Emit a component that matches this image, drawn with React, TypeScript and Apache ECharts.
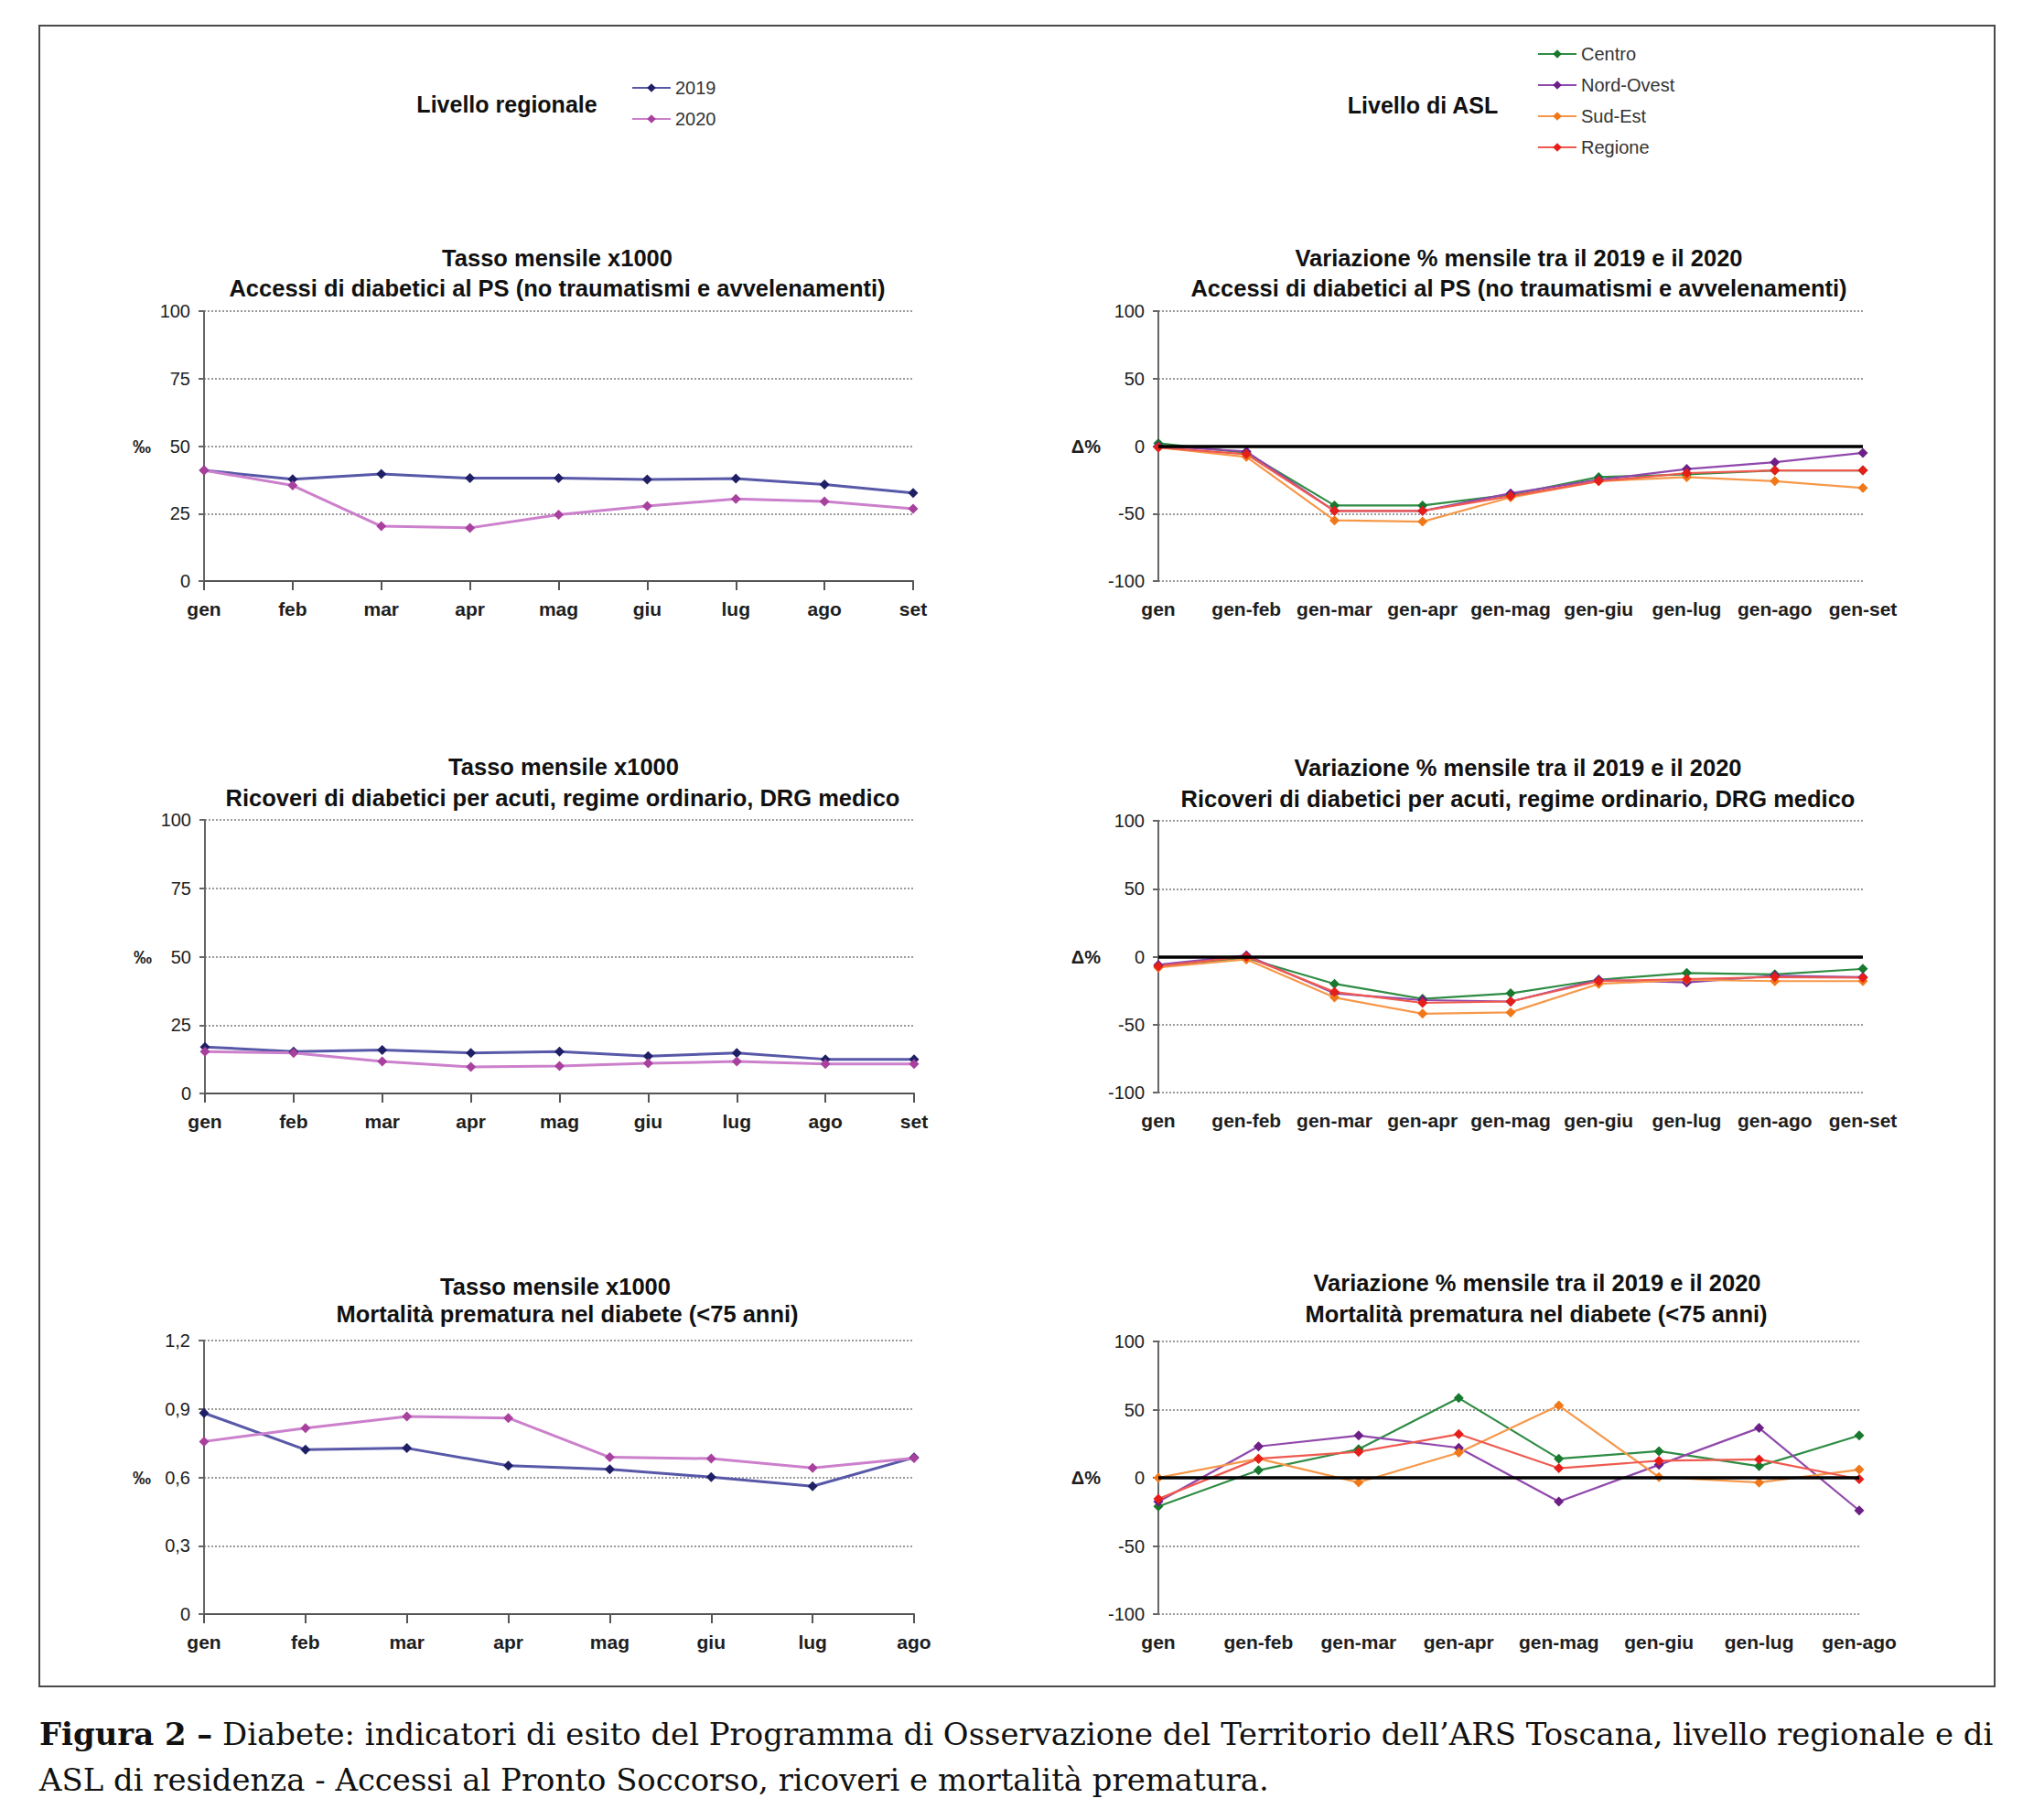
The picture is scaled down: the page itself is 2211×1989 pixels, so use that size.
import React, { useEffect, useRef } from 'react';
import * as echarts from 'echarts';

// ---------- categories ----------
const MONTHS_9 = ['gen', 'feb', 'mar', 'apr', 'mag', 'giu', 'lug', 'ago', 'set'];
const MONTHS_8 = ['gen', 'feb', 'mar', 'apr', 'mag', 'giu', 'lug', 'ago'];
const CUM_9 = ['gen', 'gen-feb', 'gen-mar', 'gen-apr', 'gen-mag', 'gen-giu', 'gen-lug', 'gen-ago', 'gen-set'];
const CUM_8 = ['gen', 'gen-feb', 'gen-mar', 'gen-apr', 'gen-mag', 'gen-giu', 'gen-lug', 'gen-ago'];

// ---------- Accessi al PS ----------
const ps2019 = [41.0, 37.7, 39.7, 38.1, 38.1, 37.6, 38.0, 35.8, 32.6];
const ps2020 = [41.0, 35.4, 20.3, 19.7, 24.6, 27.8, 30.4, 29.5, 26.8];
const psCentro = [2, -5, -44, -44, -36, -23, -21, -18, -18];
const psNordOvest = [0, -4, -48, -48, -35, -25, -17, -12, -5];
const psSudEst = [-1, -8, -55, -56, -38, -26, -23, -26, -31];
const psRegione = [-1, -6, -48, -48, -37, -26, -20, -18, -18];

// ---------- Ricoveri ----------
const ric2019 = [17.0, 15.3, 15.9, 14.8, 15.3, 13.6, 14.8, 12.5, 12.5];
const ric2020 = [15.3, 14.8, 11.7, 9.7, 10.0, 11.0, 11.7, 10.8, 10.8];
const ricCentro = [-7, -1, -20, -31, -27, -17, -12, -13, -9];
const ricNordOvest = [-6, 1, -27, -32, -33, -17, -19, -14, -15];
const ricSudEst = [-8, -2, -30, -42, -41, -20, -17, -18, -18];
const ricRegione = [-7, 0, -26, -34, -33, -18, -16.5, -15, -15.5];

// ---------- Mortalità prematura ----------
const mort2019 = [0.882, 0.721, 0.728, 0.651, 0.635, 0.601, 0.561, 0.687];
const mort2020 = [0.757, 0.816, 0.867, 0.86, 0.688, 0.682, 0.641, 0.684];
const mortCentro = [-21, 5.5, 21, 58.5, 14, 19.5, 8.5, 31];
const mortNordOvest = [-17.5, 23, 31, 22, -17.5, 9.5, 36.5, -24];
const mortSudEst = [0, 14, -3.4, 18.5, 53, 0.5, -3.5, 6];
const mortRegione = [-15.5, 14, 19, 32, 7, 12.5, 13.5, -1];

// ---------- texts ----------
const TITLES = [
  ['Tasso mensile x1000', 'Accessi di diabetici al PS (no traumatismi e avvelenamenti)'],
  ['Variazione % mensile tra il 2019 e il 2020', 'Accessi di diabetici al PS (no traumatismi e avvelenamenti)'],
  ['Tasso mensile x1000', 'Ricoveri di diabetici per acuti, regime ordinario, DRG medico'],
  ['Variazione % mensile tra il 2019 e il 2020', 'Ricoveri di diabetici per acuti, regime ordinario, DRG medico'],
  ['Tasso mensile x1000', 'Mortalità prematura nel diabete (<75 anni)'],
  ['Variazione % mensile tra il 2019 e il 2020', 'Mortalità prematura nel diabete (<75 anni)'],
];
const CAPTION_1_BOLD = 'Figura 2 –';
const CAPTION_1 = ' Diabete: indicatori di esito del Programma di Osservazione del Territorio dell’ARS Toscana, livello regionale e di';
const CAPTION_2 = 'ASL di residenza - Accessi al Pronto Soccorso, ricoveri e mortalità prematura.';

const FONT = 'Liberation Sans, Arial, Helvetica, sans-serif';

const STYLE: Record<string, { line: string; mark: string; width: number }> = {
  '2019': { line: '#5858a8', mark: '#1f1f66', width: 3 },
  '2020': { line: '#cc80cc', mark: '#a8409e', width: 3 },
  Centro: { line: '#2f8c44', mark: '#17782e', width: 2.2 },
  'Nord-Ovest': { line: '#9048ac', mark: '#6c1f86', width: 2.2 },
  'Sud-Est': { line: '#f6984a', mark: '#f07818', width: 2.2 },
  Regione: { line: '#ef5a50', mark: '#e61e1a', width: 2.2 },
};

const GRIDS = [
  { left: 223, top: 340, width: 775, height: 295 },
  { left: 1266, top: 340, width: 770, height: 295 },
  { left: 224, top: 896, width: 775, height: 299 },
  { left: 1266, top: 897, width: 770, height: 297 },
  { left: 223, top: 1465, width: 776, height: 299 },
  { left: 1266, top: 1466, width: 766, height: 298 },
];

const TITLE_POS = [
  { x1: 609, y1: 282, x2: 609, y2: 315 },
  { x1: 1660, y1: 282, x2: 1660, y2: 315 },
  { x1: 616, y1: 838, x2: 615, y2: 872 },
  { x1: 1659, y1: 839, x2: 1659, y2: 873 },
  { x1: 607, y1: 1406, x2: 620, y2: 1436 },
  { x1: 1680, y1: 1402, x2: 1679, y2: 1436 },
];

function lineSeries(name: string, data: number[], idx: number, extra: any = {}) {
  const s = STYLE[name];
  return {
    name,
    type: 'line',
    xAxisIndex: idx,
    yAxisIndex: idx,
    data,
    symbol: 'diamond',
    symbolSize: 11,
    lineStyle: { color: s.line, width: s.width },
    itemStyle: { color: s.mark },
    emphasis: { disabled: true },
    ...extra,
  };
}

const zeroLine = {
  silent: true,
  symbol: ['none', 'none'],
  label: { show: false },
  lineStyle: { color: '#000', width: 3.5, type: 'solid' },
  data: [{ yAxis: 0 }],
};

function App() {
  const ref = useRef<HTMLDivElement>(null);
  useEffect(() => {
    document.body.style.margin = '0';
    document.body.style.overflow = 'hidden';
    if (!ref.current) return;
    const chart = echarts.init(ref.current, null, { renderer: 'svg' });

    const xAxes: any[] = [];
    const yAxes: any[] = [];
    const cats = [MONTHS_9, CUM_9, MONTHS_9, CUM_9, MONTHS_8, CUM_8];
    for (let i = 0; i < 6; i++) {
      const right = i % 2 === 1;
      xAxes.push({
        gridIndex: i,
        type: 'category',
        data: cats[i],
        boundaryGap: false,
        axisLine: { show: !right, onZero: false, lineStyle: { color: '#555', width: 2 } },
        axisTick: { show: !right, length: 10, interval: 0, lineStyle: { color: '#555', width: 2 } },
        axisLabel: { interval: 0, color: '#1e1e1e', fontSize: 21, fontWeight: 'bold', fontFamily: FONT, margin: 20 },
        splitLine: { show: false },
      });
      const isMort = i === 4;
      yAxes.push({
        gridIndex: i,
        type: 'value',
        min: right ? -100 : 0,
        max: right ? 100 : isMort ? 1.2 : 100,
        interval: right ? 50 : isMort ? 0.3 : 25,
        axisLine: { show: true, lineStyle: { color: '#666', width: 2 } },
        axisTick: { show: true, length: 6, lineStyle: { color: '#666', width: 2 } },
        axisLabel: {
          color: '#1e1e1e',
          fontSize: 20,
          fontFamily: FONT,
          margin: 15,
          formatter: (v: number) => String(Math.round(v * 100) / 100).replace('.', ','),
        },
        splitLine: { show: true, lineStyle: { color: '#9a9a9a', type: 'dotted', width: 2 } },
        name: right ? 'Δ%' : '‰',
        nameLocation: 'middle',
        nameRotate: 0,
        nameGap: right ? 63 : 58,
        nameTextStyle: { fontSize: 20, fontWeight: 'bold', fontFamily: FONT, color: '#1e1e1e' },
      });
    }

    const series: any[] = [
      lineSeries('2019', ps2019, 0),
      lineSeries('2020', ps2020, 0),
      lineSeries('Centro', psCentro, 1, { markLine: zeroLine }),
      lineSeries('Nord-Ovest', psNordOvest, 1),
      lineSeries('Sud-Est', psSudEst, 1),
      lineSeries('Regione', psRegione, 1),
      lineSeries('2019', ric2019, 2),
      lineSeries('2020', ric2020, 2),
      lineSeries('Centro', ricCentro, 3, { markLine: zeroLine }),
      lineSeries('Nord-Ovest', ricNordOvest, 3),
      lineSeries('Sud-Est', ricSudEst, 3),
      lineSeries('Regione', ricRegione, 3),
      lineSeries('2019', mort2019, 4),
      lineSeries('2020', mort2020, 4),
      lineSeries('Centro', mortCentro, 5, { markLine: zeroLine }),
      lineSeries('Nord-Ovest', mortNordOvest, 5),
      lineSeries('Sud-Est', mortSudEst, 5),
      lineSeries('Regione', mortRegione, 5),
    ];

    const titleTexts: any[] = [];
    TITLES.forEach((t, i) => {
      const p = TITLE_POS[i];
      titleTexts.push({
        type: 'text', x: p.x1, y: p.y1,
        style: { text: t[0], fill: '#111', fontSize: 25.5, fontWeight: 'bold', fontFamily: FONT, align: 'center', verticalAlign: 'middle' },
      });
      titleTexts.push({
        type: 'text', x: p.x2, y: p.y2,
        style: { text: t[1], fill: '#111', fontSize: 25.5, fontWeight: 'bold', fontFamily: FONT, align: 'center', verticalAlign: 'middle' },
      });
    });

    const legendText = { fontSize: 20, fontFamily: FONT, color: '#333' };

    chart.setOption({
      animation: false,
      backgroundColor: '#ffffff',
      grid: GRIDS.map((g) => ({ ...g, containLabel: false })),
      xAxis: xAxes,
      yAxis: yAxes,
      legend: [
        {
          data: ['2019', '2020'],
          orient: 'vertical',
          left: 690,
          top: 86,
          itemWidth: 42,
          itemHeight: 12,
          itemGap: 14,
          padding: 0,
          selectedMode: false,
          textStyle: legendText,
        },
        {
          data: ['Centro', 'Nord-Ovest', 'Sud-Est', 'Regione'],
          orient: 'vertical',
          left: 1680,
          top: 49,
          itemWidth: 42,
          itemHeight: 12,
          itemGap: 14,
          padding: 0,
          selectedMode: false,
          textStyle: legendText,
        },
      ],
      graphic: [
        {
          type: 'rect',
          shape: { x: 43, y: 28, width: 2137, height: 1815 },
          style: { fill: 'none', stroke: '#4a4a4a', lineWidth: 2 },
          silent: true,
        },
        {
          type: 'text', x: 554, y: 114,
          style: { text: 'Livello regionale', fill: '#111', fontSize: 25, fontWeight: 'bold', fontFamily: FONT, align: 'center', verticalAlign: 'middle' },
        },
        {
          type: 'text', x: 1555, y: 115,
          style: { text: 'Livello di ASL', fill: '#111', fontSize: 25, fontWeight: 'bold', fontFamily: FONT, align: 'center', verticalAlign: 'middle' },
        },
        ...titleTexts,
        {
          type: 'text', x: 43, y: 1895,
          style: {
            text: '{b|' + CAPTION_1_BOLD + '}' + CAPTION_1,
            fill: '#111', fontSize: 33.9, fontFamily: 'DejaVu Serif, serif', align: 'left', verticalAlign: 'middle',
            rich: { b: { fontWeight: 'bold', fontSize: 33.9, fontFamily: 'DejaVu Serif, serif', fill: '#111' } },
          },
        },
        {
          type: 'text', x: 43, y: 1945,
          style: { text: CAPTION_2, fill: '#111', fontSize: 33.9, fontFamily: 'DejaVu Serif, serif', align: 'left', verticalAlign: 'middle' },
        },
      ],
      series,
    });
    return () => chart.dispose();
  }, []);
  return <div ref={ref} style={{ width: 2211, height: 1989 }} />;
}

export default App;
